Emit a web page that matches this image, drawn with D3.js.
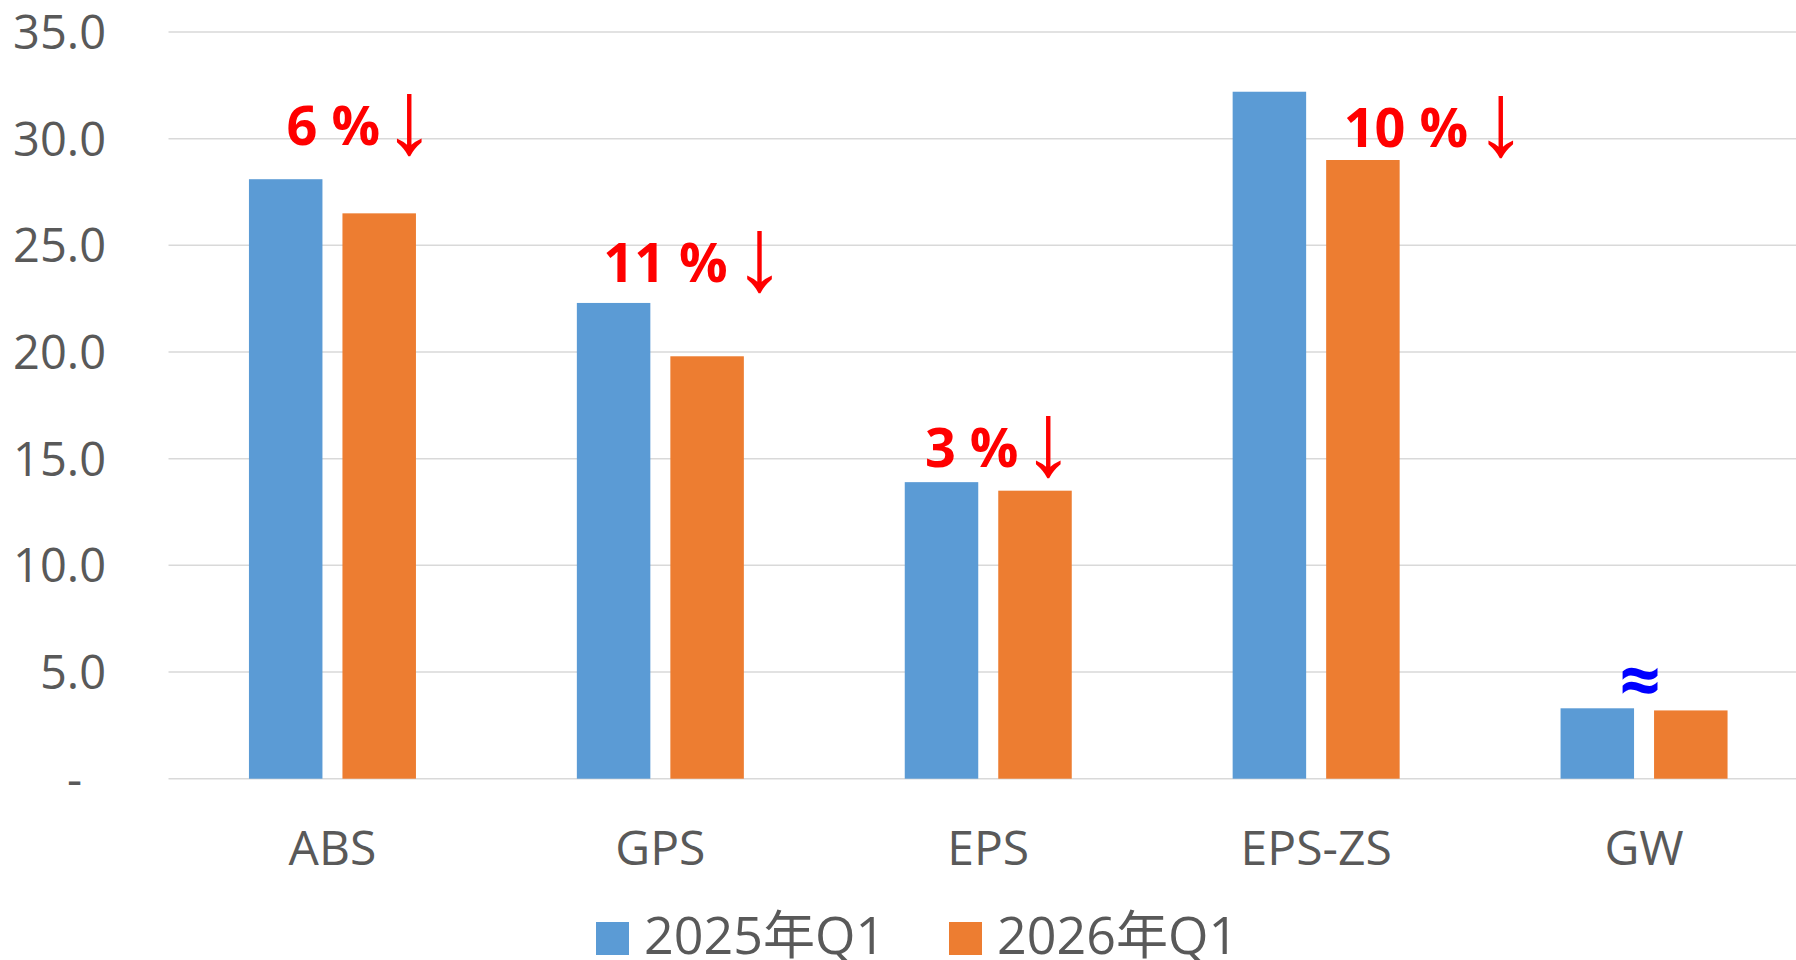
<!DOCTYPE html>
<html>
<head>
<meta charset="utf-8">
<script src="https://cdn.jsdelivr.net/npm/d3@7"></script>
<style>
  html, body { margin: 0; padding: 0; background: #fff; }
  svg { display: block; }
</style>
</head>
<body>
<svg id="chart" width="1796" height="960"></svg>
<script>
// ---- Data
const categories = ['ABS', 'GPS', 'EPS', 'EPS-ZS', 'GW'];
const seriesNames = ['2025年Q1', '2026年Q1'];
const values2025 = [28.1, 22.3, 13.9, 32.2, 3.3];
const values2026 = [26.5, 19.8, 13.5, 29.0, 3.2];
const yTicks = [0, 5, 10, 15, 20, 25, 30, 35];

// change annotations (text, y anchor in data units)
const changeCats = ['ABS', 'GPS', 'EPS', 'EPS-ZS'];
const changeTexts = ['6 %', '11 %', '3 %', '10 %'];
const changeLevels = [29.7, 23.3, 14.6, 29.6];
const flatCat = 'GW';
const flatText = '≈';
const flatLevel = 3.4;

const colors = ['#5B9BD5', '#ED7D31'];
const textColor = '#595959';
const font = '"Open Sans", "Noto Sans CJK SC", sans-serif';

const svg = d3.select('#chart');
const margin = { left: 168.5, top: 32, bottom: 181.3 };
const width = 1808;
const height = 960;

// ---- Scales
const x0 = d3.scaleBand()
    .domain(categories)
    .range([margin.left, width]);

const x1 = d3.scaleBand()
    .domain(seriesNames)
    .range([-83.5, 83.5])
    .paddingInner(0.214);

const y = d3.scaleLinear()
    .domain([0, 35])
    .range([height - margin.bottom, margin.top]);

const cx = c => x0(c) + x0.bandwidth() / 2;

// ---- Grid
svg.append('g')
    .selectAll('line')
    .data(yTicks)
    .join('line')
    .attr('x1', margin.left)
    .attr('x2', width)
    .attr('y1', d => y(d))
    .attr('y2', d => y(d))
    .style('stroke', '#d9d9d9')
    .style('stroke-width', 1.5);

// ---- Y axis labels
const yAxis = d3.axisLeft(y)
    .tickValues(yTicks)
    .tickSize(0)
    .tickPadding(0)
    .tickFormat(d => d === 0 ? '-' : d3.format('.1f')(d));

svg.append('g')
    .attr('transform', 'translate(106,0)')
    .call(yAxis)
    .call(g => g.select('.domain').remove())
    .call(g => g.selectAll('text')
        .attr('dx', d => d === 0 ? -24 : 0)
        .attr('dy', '0.35em')
        .style('font-family', font)
        .style('font-size', '47px')
        .style('fill', textColor));

// ---- Bars
const rows = categories.map((c, i) => ({ cat: c, vals: [values2025[i], values2026[i]] }));

svg.append('g')
    .selectAll('g')
    .data(rows)
    .join('g')
    .attr('transform', d => `translate(${cx(d.cat)},0)`)
    .selectAll('rect')
    .data(d => d.vals.map((v, i) => ({ s: seriesNames[i], v, i })))
    .join('rect')
    .attr('x', d => x1(d.s))
    .attr('width', x1.bandwidth())
    .attr('y', d => y(d.v))
    .attr('height', d => y(0) - y(d.v))
    .style('fill', d => colors[d.i]);

// ---- X axis labels
const xAxis = d3.axisBottom(x0).tickSize(0).tickPadding(0);
svg.append('g')
    .attr('transform', `translate(0,${y(0)})`)
    .call(xAxis)
    .call(g => g.select('.domain').remove())
    .call(g => g.selectAll('text')
        .attr('y', 86)
        .attr('dy', 0)
        .style('font-family', font)
        .style('font-size', '48px')
        .style('fill', textColor));

// ---- Change annotations
const labelOffsets = [-0.140, -0.174, -0.193, 0.084];
const arrowOffsets = [0.234, 0.302, 0.183, 0.563];

const ann = svg.append('g');
changeCats.forEach((c, i) => {
    const bx = cx(c);
    ann.append('text')
        .attr('x', bx + labelOffsets[i] * x0.bandwidth())
        .attr('y', y(changeLevels[i]))
        .style('font-family', font)
        .style('font-weight', 700)
        .style('font-size', '54px')
        .style('fill', '#FF0000')
        .text(changeTexts[i]);
    ann.append('text')
        .attr('x', bx + arrowOffsets[i] * x0.bandwidth())
        .attr('y', y(changeLevels[i]) + 8)
        .attr('text-anchor', 'middle')
        .style('font-family', '"Liberation Sans", "DejaVu Sans"')
        .style('font-size', '105px')
        .style('fill', '#FF0000')
        .text('↓');
});

ann.append('text')
    .attr('x', cx(flatCat) - 4)
    .attr('y', y(flatLevel))
    .attr('text-anchor', 'middle')
    .style('font-family', font)
    .style('font-weight', 700)
    .style('font-size', '72px')
    .style('fill', '#0000FF')
    .text(flatText);

// ---- Legend
const legendX = [596, 949];
const legend = svg.append('g')
    .selectAll('g')
    .data(seriesNames)
    .join('g')
    .attr('transform', (d, i) => `translate(${legendX[i]},922)`);

legend.append('rect')
    .attr('width', 33)
    .attr('height', 33)
    .style('fill', (d, i) => colors[i]);

legend.append('text')
    .attr('x', 48)
    .attr('y', 32)
    .style('font-family', font)
    .style('font-size', '52px')
    .style('fill', textColor)
    .text(d => d);
</script>
</body>
</html>
